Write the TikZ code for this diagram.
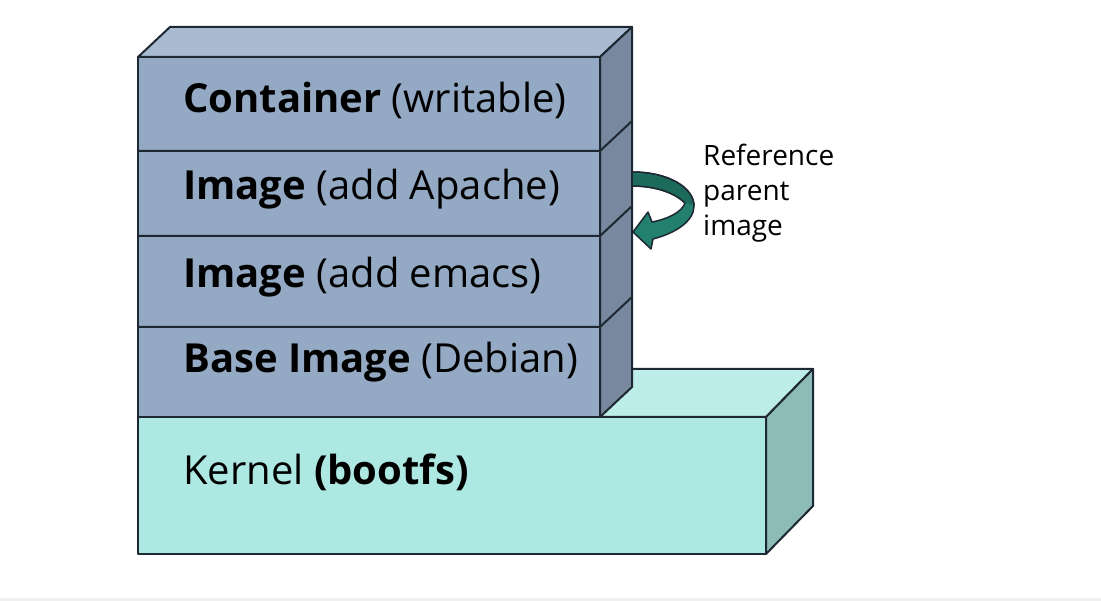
\documentclass[tikz,border=0pt]{standalone}
\usepackage{fontspec}
\setmainfont{Open Sans}
\definecolor{stackfront}{HTML}{94A9C3}
\definecolor{stacktop}{HTML}{A9BBD0}
\definecolor{stackside}{HTML}{77889F}
\definecolor{kernfront}{HTML}{AEE8E2}
\definecolor{kerntop}{HTML}{BDEDE8}
\definecolor{kernside}{HTML}{8DBBB6}
\definecolor{edge}{HTML}{1E2833}
\definecolor{arrowteal}{HTML}{23806F}
\definecolor{arrowdark}{HTML}{1B6A5C}
\tikzset{
  face/.style={draw=edge, line width=2pt, line join=round},
  lbl/.style={anchor=base west, inner sep=0pt, font=\fontsize{40}{48}\selectfont, text=black},
  side/.style={anchor=base west, inner sep=0pt, font=\fontsize{28}{34}\selectfont, text=black, align=left}
}
\begin{document}
\begin{tikzpicture}[x=1pt,y=-1pt]
\useasboundingbox (0,0) rectangle (1101,601);
\fill[white] (0,0) rectangle (1101,601);
\fill[black!6] (0,598) rectangle (1101,601);
% kernel box
\filldraw[face, fill=kerntop] (138,417) -- (185,369) -- (813,369) -- (766,417) -- cycle;
\filldraw[face, fill=kernside] (766,417) -- (813,369) -- (813,506) -- (766,554) -- cycle;
\filldraw[face, fill=kernfront] (138,417) rectangle (766,554);
% stack
\filldraw[face, fill=stacktop] (138,57) -- (170,27) -- (632,27) -- (600,57) -- cycle;
\filldraw[face, fill=stackside] (600,57) -- (632,27) -- (632,387) -- (600,417) -- cycle;
\filldraw[face, fill=stackfront] (138,57) rectangle (600,417);
\draw[face] (138,151) -- (600,151) -- (632,121);
\draw[face] (138,236) -- (600,236) -- (632,206);
\draw[face] (138,327) -- (600,327) -- (632,297);
% labels
\node[lbl] (container) at (183,113) {\textbf{Container} (writable)};
\node[lbl] (apache) at (183,200) {\textbf{Image} (add Apache)};
\node[lbl] (emacs) at (183,288) {\textbf{Image} (add emacs)};
\node[lbl] (base) at (183,373) {\textbf{Base Image} (Debian)};
\node[lbl] (kernel) at (183,485) {Kernel \textbf{(bootfs)}};
% curved arrow
\filldraw[draw=edge, line width=1.5pt, line join=round, fill=arrowteal]
  (632,172) .. controls (669,172) and (694,188) .. (694,206)
  .. controls (694,221) and (676,233) .. (653,239)
  -- (651,249) -- (633,232) -- (648,212) -- (652,222)
  .. controls (668,219) and (682,212) .. (685,203)
  .. controls (675,193) and (656,186) .. (632,186) -- cycle;
\fill[arrowdark] (633,173.5) .. controls (669,173.5) and (692.5,188) .. (692.5,205)
  .. controls (689,203.5) and (687,203) .. (685,203)
  .. controls (675,193) and (656,186) .. (633,186) -- cycle;
\draw[edge, line width=1.5pt, line join=round]
  (632,172) .. controls (669,172) and (694,188) .. (694,206);
\draw[edge, line width=1.5pt, line join=round]
  (685,203) .. controls (675,193) and (656,186) .. (632,186);
\node[side] (ref) at (703,236) {Reference\\[1pt]parent\\[1pt]image};
\end{tikzpicture}
\end{document}
